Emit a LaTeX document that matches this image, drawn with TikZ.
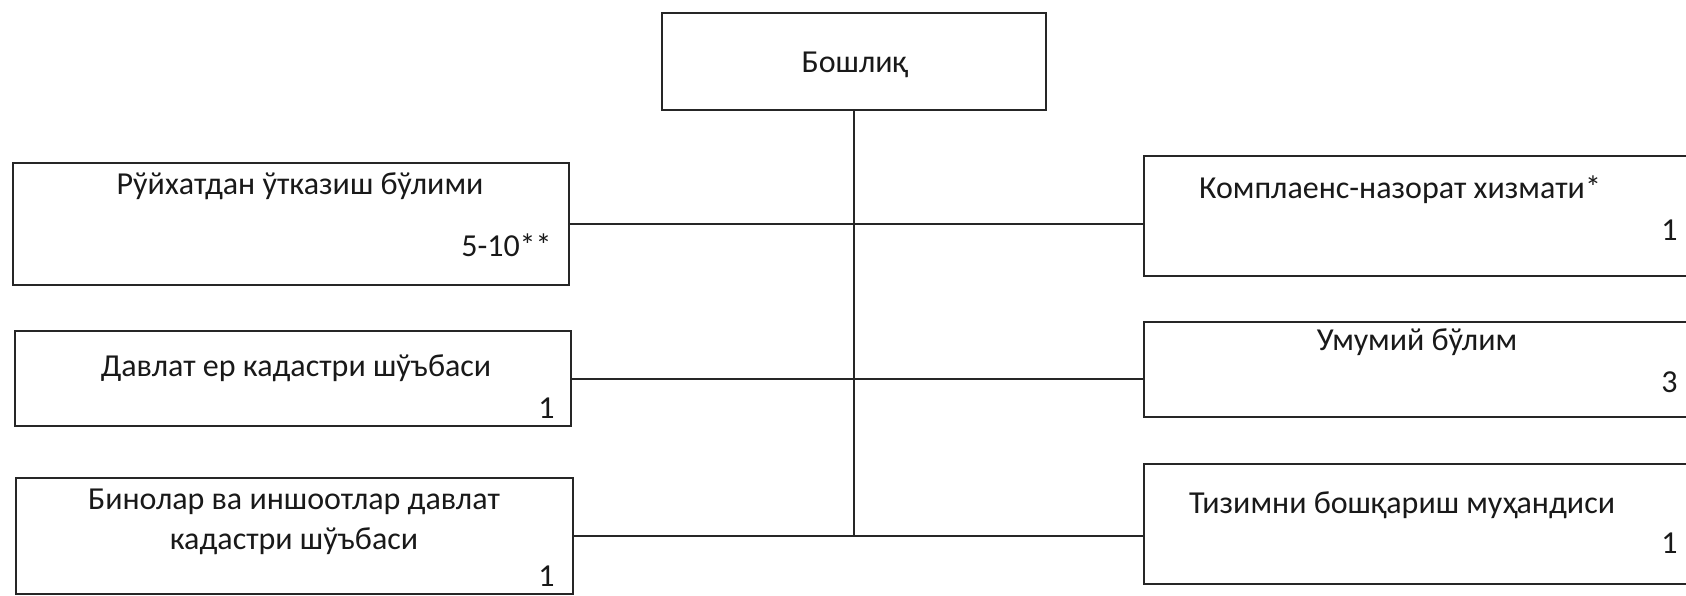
\documentclass[tikz,border=0pt]{standalone}
\usepackage{fontspec}
\setmainfont{Carlito}
\begin{document}
\begin{tikzpicture}[x=0.5pt,y=-0.5pt,
  box/.style={draw=black!85,line width=1pt,rectangle,inner sep=0pt,anchor=north west},
  lbl/.style={font=\fontsize{16}{20}\selectfont,text=black!90,inner sep=0pt,align=center},
  num/.style={font=\fontsize{16}{20}\selectfont,text=black!90,inner sep=0pt,anchor=east},
  link/.style={draw=black!85,line width=1pt}]
\useasboundingbox (0,0) rectangle (1686,595);
% boxes
\node[box,minimum width=192pt,minimum height=48.5pt] (top) at (661,12) {};
\node[box,minimum width=278pt,minimum height=61pt] (l1) at (12,162) {};
\node[box,minimum width=278pt,minimum height=47.5pt] (l2) at (14,330) {};
\node[box,minimum width=278.5pt,minimum height=58pt] (l3) at (15,477) {};
\node[box,minimum width=280pt,minimum height=60pt] (r1) at (1143,155) {};
\node[box,minimum width=280pt,minimum height=47.5pt] (r2) at (1143,321) {};
\node[box,minimum width=280pt,minimum height=60pt] (r3) at (1143,463) {};
% texts
\node[lbl] (topt) at (855,65) {Бошлиқ};
\node[lbl] (l1t) at (300,186) {Рўйхатдан ўтказиш бўлими};
\node[num] (l1n) at (552,245) {5-10**};
\node[lbl] (l2t) at (296,368) {Давлат ер кадастри шўъбаси};
\node[num] (l2n) at (555,408) {1};
\node[lbl] (l3t) at (294,522) {Бинолар ва иншоотлар давлат\\кадастри шўъбаси};
\node[num] (l3n) at (555,576) {1};
\node[lbl] (r1t) at (1400,190) {Комплаенс-назорат хизмати*};
\node[num] (r1n) at (1678,230) {1};
\node[lbl] (r2t) at (1417,342) {Умумий бўлим};
\node[num] (r2n) at (1678,382) {3};
\node[lbl] (r3t) at (1402,505) {Тизимни бошқариш муҳандиси};
\node[num] (r3n) at (1678,543) {1};
% connectors
\draw[link] (top.south) -- (top.south |- l3.east);
\draw[link] (l1.east) -- (l1.east -| r1.west);
\draw[link] (l2.east) -- (l2.east -| r2.west);
\draw[link] (l3.east) -- (l3.east -| r3.west);
\end{tikzpicture}
\end{document}
